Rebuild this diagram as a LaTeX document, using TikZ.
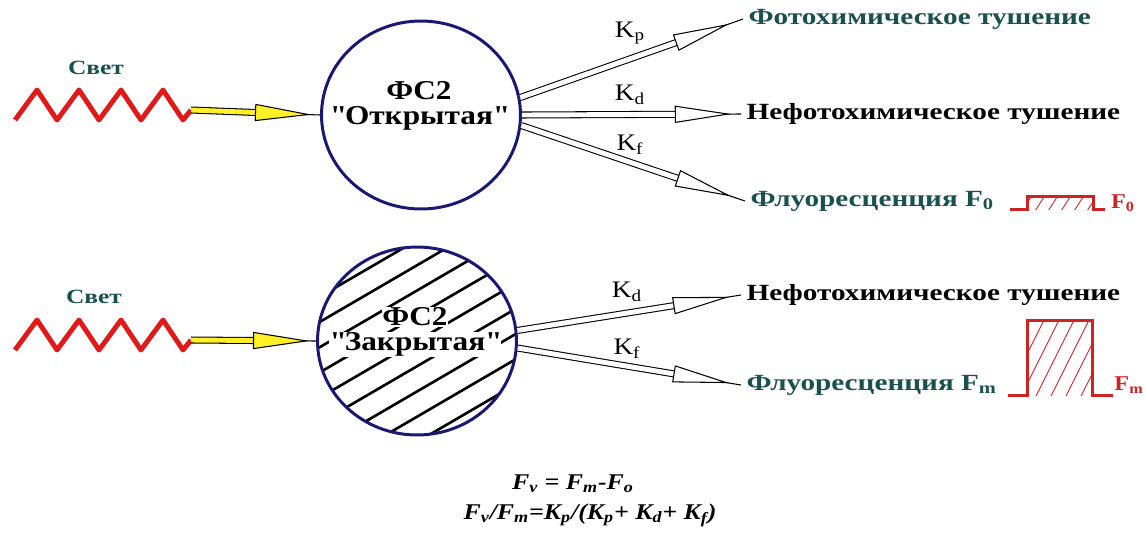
\documentclass[tikz,border=0pt]{standalone}
\usepackage{fontspec}
\setmainfont[FakeStretch=1.15]{Liberation Serif}
\newfontfamily\widefont[FakeStretch=1.26]{Liberation Serif}
\usepackage{xcolor}
\usepackage{tikz}
\usetikzlibrary{positioning, shapes.geometric, calc}
\definecolor{navy}{RGB}{25, 25, 115}
\definecolor{tealtext}{RGB}{25, 80, 80}
\definecolor{wavered}{RGB}{225, 25, 25}
\definecolor{pulsered}{RGB}{205, 35, 35}
\definecolor{beamyellow}{RGB}{255, 240, 40}

% white patch behind a text line on the hatching
\newcommand{\clearline}[1]{{\setlength{\fboxsep}{0.5pt}\colorbox{white}{#1}}}

% light / rate arrow: double shaft, long head, thin tail
\newcommand{\beam}[4][0.7]{%
    \draw[beamtail] (#3) -- (#4);
    \coordinate (headbase) at ($(#3)!#1!(#4)$);
    \draw[beamshaft, double=#2] (#3) -- (headbase);
    \draw[beamhead, fill=#2]
        ($(headbase)!4.6pt!90:(#4)$) -- ($(headbase)!30pt!(#4)$)
        -- ($(headbase)!4.6pt!-90:(#4)$) -- cycle;
}

\begin{document}
\begin{tikzpicture}[
    x=0.02cm, y=-0.02cm,
    % -------------------------------------------------
    % Node styles
    % -------------------------------------------------
    psystem/.style={
        ellipse,
        draw=navy,
        line width=1.7pt,
        minimum width=3.98cm,
        minimum height=3.76cm,
        inner sep=0pt
    },
    closedhatch/.style={
        path picture={
            \foreach \k in {-5,...,5}
                \draw[black, line width=1.5pt]
                    ($(path picture bounding box.center)+({\k*11.4-103},{\k*18.6+60})$)
                    -- ++(206,-120);
        }
    },
    pslabel/.style={
        font=\bfseries\fontsize{15.5}{14.2}\selectfont,
        align=center,
        inner sep=0.5pt
    },
    outcome/.style={
        anchor=west,
        font=\widefont\bfseries\fontsize{13.2}{15}\selectfont,
        inner xsep=3pt,
        inner ysep=1pt
    },
    lightlabel/.style={
        font=\widefont\bfseries\fontsize{11.5}{13}\selectfont,
        text=tealtext
    },
    ratelabel/.style={
        font=\fontsize{13.5}{15}\selectfont,
        inner sep=1pt
    },
    pulselabel/.style={
        font=\bfseries\fontsize{12}{14}\selectfont,
        text=pulsered,
        inner sep=1pt
    },
    formula/.style={
        font=\bfseries\itshape\fontsize{12.8}{15}\selectfont
    },
    % -------------------------------------------------
    % Lines
    % -------------------------------------------------
    wave/.style={
        draw=wavered,
        line width=2.8pt,
        line join=round
    },
    beamtail/.style={
        draw=black,
        line width=0.6pt
    },
    beamshaft/.style={
        draw=black,
        line width=0.6pt,
        double distance=2.8pt
    },
    beamhead/.style={
        draw=black,
        line width=0.6pt,
        line join=miter
    },
    pulse/.style={
        draw=pulsered,
        line width=1.7pt
    },
    pulsehatch/.style={
        draw=pulsered,
        line width=0.5pt
    }
]

\useasboundingbox (0,0) rectangle (1145,542);

% =====================================================
% PS2 open
% =====================================================

\node[psystem] (psopen) at (421,115) {};

\node[pslabel] (openname) at (419,106)
    {ФС2\\\textquotedbl Открытая\textquotedbl};

\node[lightlabel] (lightA) at (96,68) {Свет};

\draw[wave] (15,120)
    \foreach \i in {1,...,4} { -- ++(22,-30) -- ++(20,30) }
    -- ++(8,-10) coordinate (waveA);

\node[outcome, text=tealtext] (photoA) at (743,19)
    {Фотохимическое тушение};
\node[outcome] (nonphotoA) at (741,114)
    {Нефотохимическое тушение};
\node[outcome, text=tealtext] (fluorA) at (745,201)
    {Флуоресценция F\textsubscript{0}};

\beam[0.5]{beamyellow}{waveA}{psopen.west}
\beam{white}{psopen.10}{photoA.west}
\beam{white}{psopen.east}{nonphotoA.west}
\beam{white}{psopen.-6}{fluorA.west}

\node[ratelabel] (kpA) at (630,33) {K\textsubscript{p}};
\node[ratelabel] (kdA) at (630,95) {K\textsubscript{d}};
\node[ratelabel] (kfA) at (630,145) {K\textsubscript{f}};

% small pulse
\draw[pulse] (1010,209) -- (1027,209) -- (1027,196)
    -- (1093,196) -- (1093,209) -- (1105,209);
\begin{scope}
    \clip (1027,196) rectangle (1093,209);
    \foreach \x in {1022,1035,...,1100}
        \draw[pulsehatch] (\x,211) -- ++(11,-17);
\end{scope}
\node[pulselabel] (f0tag) at (1123,203) {F\textsubscript{0}};

% =====================================================
% PS2 closed
% =====================================================

\node[psystem, closedhatch] (psclosed) at (417,341) {};

\node[pslabel] (closedname) at (415,332)
    {\clearline{ФС2}\\\clearline{\textquotedbl Закрытая\textquotedbl}};

\node[lightlabel] (lightB) at (94,297) {Свет};

\draw[wave] (15,350)
    \foreach \i in {1,...,4} { -- ++(22,-30) -- ++(20,30) }
    -- ++(8,-10) coordinate (waveB);

\node[outcome] (nonphotoB) at (741,295)
    {Нефотохимическое тушение};
\node[outcome, text=tealtext] (fluorB) at (741,385)
    {Флуоресценция F\textsubscript{m}};

\beam[0.5]{beamyellow}{waveB}{psclosed.west}
\beam{white}{psclosed.6}{nonphotoB.west}
\beam{white}{psclosed.-4}{fluorB.west}

\node[ratelabel] (kdB) at (627,292) {K\textsubscript{d}};
\node[ratelabel] (kfB) at (627,349) {K\textsubscript{f}};

% large pulse
\draw[pulse] (1008,395) -- (1027,395) -- (1027,320)
    -- (1092,320) -- (1092,395) -- (1113,395);
\begin{scope}
    \clip (1027,320) rectangle (1092,395);
    \foreach \x in {990,1005,...,1100}
        \draw[pulsehatch] (\x,398) -- ++(40,-80);
\end{scope}
\node[pulselabel] (fmtag) at (1129,385) {F\textsubscript{m}};

% =====================================================
% Ratios
% =====================================================

\node[formula] (fvar) at (573,484)
    {F\textsubscript{v} = F\textsubscript{m}-F\textsubscript{o}};
\node[formula] (fratio) at (590,515)
    {F\textsubscript{v}/F\textsubscript{m}=K\textsubscript{p}/(K\textsubscript{p}+ K\textsubscript{d}+ K\textsubscript{f})};

\end{tikzpicture}
\end{document}
